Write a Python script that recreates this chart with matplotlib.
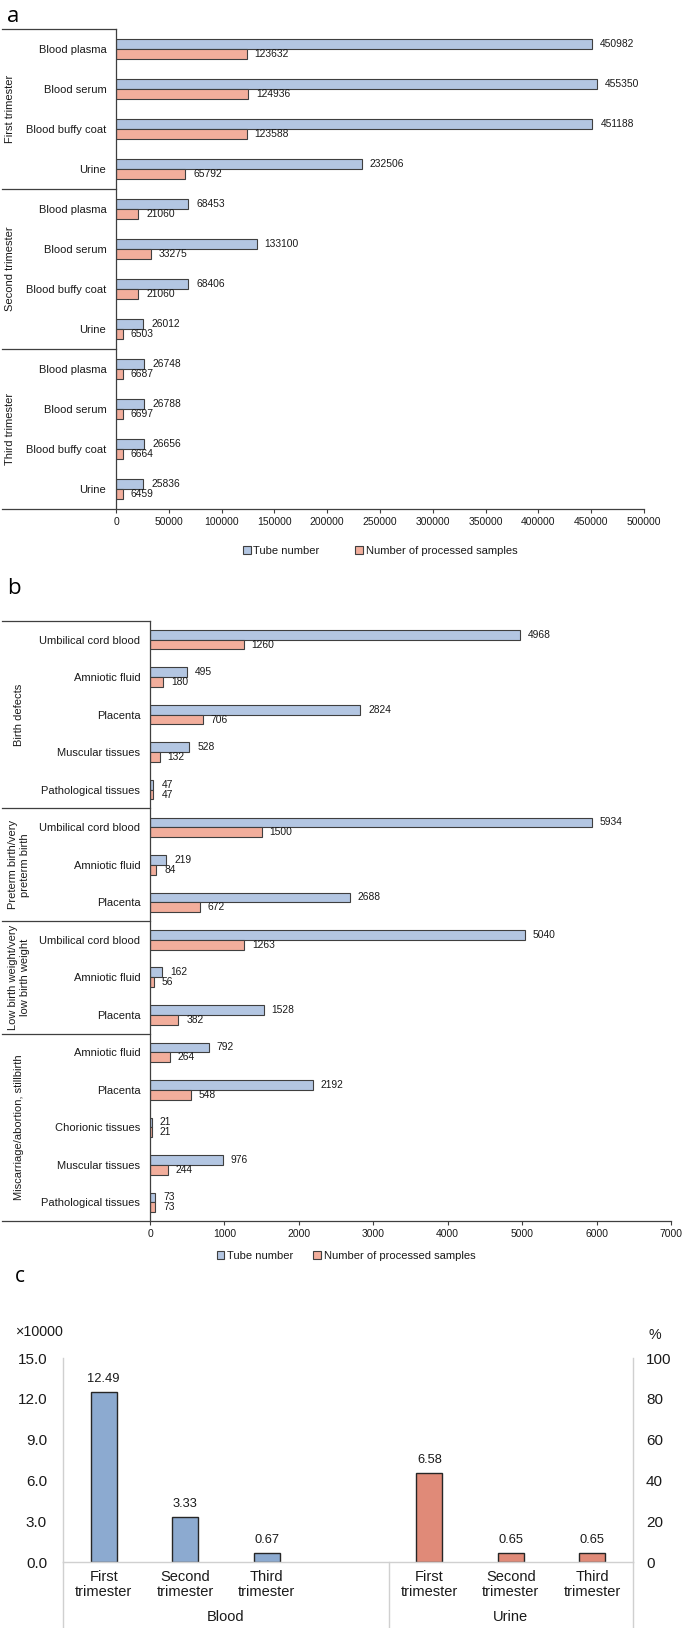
import matplotlib.pyplot as plt
from matplotlib.patches import Patch
from matplotlib.transforms import blended_transform_factory

plt.rcParams['font.family'] = ['Liberation Sans', 'DejaVu Sans']

# panel a data
a_groups = ["First trimester", "Second trimester", "Third trimester"]
a_group_sizes = [4, 4, 4]
a_samples = ["Blood plasma", "Blood serum", "Blood buffy coat", "Urine"] * 3
a_tubes = [450982, 455350, 451188, 232506, 68453, 133100, 68406, 26012,
           26748, 26788, 26656, 25836]
a_processed = [123632, 124936, 123588, 65792, 21060, 33275, 21060, 6503,
               6687, 6697, 6664, 6459]

# panel b data
b_groups = ["Birth defects", "Preterm birth/very\npreterm birth",
            "Low birth weight/very\nlow birth weight",
            "Miscarriage/abortion, stillbirth"]
b_group_sizes = [5, 3, 3, 5]
b_samples = ["Umbilical cord blood", "Amniotic fluid", "Placenta", "Muscular tissues",
             "Pathological tissues", "Umbilical cord blood", "Amniotic fluid", "Placenta",
             "Umbilical cord blood", "Amniotic fluid", "Placenta", "Amniotic fluid",
             "Placenta", "Chorionic tissues", "Muscular tissues", "Pathological tissues"]
b_tubes = [4968, 495, 2824, 528, 47, 5934, 219, 2688, 5040, 162, 1528, 792, 2192, 21, 976, 73]
b_processed = [1260, 180, 706, 132, 47, 1500, 84, 672, 1263, 56, 382, 264, 548, 21, 244, 73]

# panel c data (x10000)
c_labels = ["First\ntrimester", "Second\ntrimester", "Third\ntrimester"]
c_blood = [12.49, 3.33, 0.67]
c_urine = [6.58, 0.65, 0.65]

W, H = 685, 1628
BLUE = "#b3c6e2"
ORANGE = "#f2ae9c"
EDGE = "#3f3f3f"
TXT = "#1a1a1a"

fig = plt.figure(figsize=(W / 100, H / 100), dpi=100)


def px(x0, y0, x1, y1):
    return [x0 / W, 1 - y1 / H, (x1 - x0) / W, (y1 - y0) / H]


def hbar_panel(rect, samples, tubes, processed, groups, sizes, xmax, xstep,
               group_x, legend_xy, colspace):
    ax = fig.add_axes(px(*rect))
    n = len(samples)
    pos = [i + 0.5 for i in range(n)]
    ax.barh([p - 0.13 for p in pos], tubes, height=0.26, color=BLUE,
            edgecolor=EDGE, linewidth=0.8)
    ax.barh([p + 0.13 for p in pos], processed, height=0.26, color=ORANGE,
            edgecolor=EDGE, linewidth=0.8)
    ax.set_xlim(0, xmax)
    ax.set_ylim(n, 0)
    off = xmax * 0.015
    for p, t, q in zip(pos, tubes, processed):
        ax.text(t + off, p - 0.13, str(t), va="center", ha="left", fontsize=7.4, color=TXT)
        ax.text(q + off, p + 0.13, str(q), va="center", ha="left", fontsize=7.4, color=TXT)
    ax.set_yticks(pos)
    ax.set_yticklabels(samples, fontsize=8, color=TXT)
    ax.tick_params(axis="y", length=0, pad=7)
    ax.set_xticks(range(0, xmax + 1, xstep))
    ax.tick_params(axis="x", length=3, width=0.8, color=EDGE, labelsize=7.5,
                   labelcolor=TXT, pad=3)
    for s in ["top", "right", "bottom"]:
        ax.spines[s].set_visible(False)
    ax.spines["left"].set_color(EDGE)
    ax.spines["left"].set_linewidth(0.9)
    tr = blended_transform_factory(ax.transAxes, ax.transData)
    left = (2 - rect[0]) / (rect[2] - rect[0])
    start = 0
    for g, s in zip(groups, sizes):
        ax.plot([left, 0], [start, start], color=EDGE, lw=0.9, transform=tr, clip_on=False)
        ax.text(group_x, start + s / 2, g, rotation=90, ha="center", va="center",
                fontsize=8, color=TXT, transform=tr, linespacing=1.15)
        start += s
    ax.plot([left, 1], [n, n], color=EDGE, lw=0.9, transform=tr, clip_on=False)
    handles = [Patch(facecolor=BLUE, edgecolor=EDGE, linewidth=0.8, label="Tube number"),
               Patch(facecolor=ORANGE, edgecolor=EDGE, linewidth=0.8,
                     label="Number of processed samples")]
    fig.legend(handles=handles, loc="center",
               bbox_to_anchor=(legend_xy[0] / W, 1 - legend_xy[1] / H),
               ncol=2, frameon=False, fontsize=8, handlelength=0.7, handleheight=0.7,
               handletextpad=0.25, columnspacing=colspace, labelcolor=TXT)
    return ax


hbar_panel((116, 29, 644, 509), a_samples, a_tubes, a_processed, a_groups,
           a_group_sizes, 500000, 50000, (10 - 116) / 528, (380, 551), 3.2)
hbar_panel((150, 621, 671, 1221), b_samples, b_tubes, b_processed, b_groups,
           b_group_sizes, 7000, 1000, (19 - 150) / 521, (346, 1256), 1.8)

# panel c
GRAY = "#d0d0d0"
CBLUE = "#8caad0"
CORANGE = "#e08a78"
axc = fig.add_axes(px(63, 1358, 633, 1562))
bx = [0.5, 1.5, 2.5]
ux = [4.5, 5.5, 6.5]
axc.bar(bx, c_blood, width=0.32, color=CBLUE, edgecolor="#262626", linewidth=1)
axc.bar(ux, c_urine, width=0.32, color=CORANGE, edgecolor="#262626", linewidth=1)
for x, v in zip(bx + ux, c_blood + c_urine):
    axc.annotate(f"{v:.2f}", (x, v), xytext=(0, 5), textcoords="offset points",
                 ha="center", va="bottom", fontsize=9.3, color=TXT)
axc.set_xlim(0, 7)
axc.set_ylim(0, 15)
axc.set_yticks([0, 3, 6, 9, 12, 15])
axc.set_yticklabels([f"{v:.1f}" for v in [0, 3, 6, 9, 12, 15]])
axc.tick_params(axis="y", length=0, pad=11.5, labelsize=11, labelcolor=TXT)
axc.set_xticks(bx + ux)
axc.set_xticklabels(c_labels * 2, linespacing=1.05)
axc.tick_params(axis="x", length=0, pad=6, labelsize=10.5, labelcolor=TXT)
axc.spines["top"].set_visible(False)
axc.spines["right"].set_visible(False)
for s in ["left", "bottom"]:
    axc.spines[s].set_color(GRAY)
    axc.spines[s].set_linewidth(1)

axr = axc.twinx()
axr.set_ylim(0, 100)
axr.set_yticks(range(0, 101, 20))
axr.tick_params(axis="y", length=0, pad=9.4, labelsize=11, labelcolor=TXT)
for s in ["top", "left", "bottom"]:
    axr.spines[s].set_visible(False)
axr.spines["right"].set_color(GRAY)
axr.spines["right"].set_linewidth(1)

trc = blended_transform_factory(axc.transData, axc.transAxes)
for x in [0, 4, 7]:
    axc.plot([x, x], [0, -0.33], color=GRAY, lw=1, transform=trc, clip_on=False)
axc.text(2, -0.27, "Blood", ha="center", va="center", fontsize=10.5, color=TXT, transform=trc)
axc.text(5.5, -0.27, "Urine", ha="center", va="center", fontsize=10.5, color=TXT, transform=trc)

fig.text(39 / W, 1 - 1332 / H, "×10000", ha="center", va="center", fontsize=10.3, color=TXT)
fig.text(655 / W, 1 - 1335 / H, "%", ha="center", va="center", fontsize=10.3, color=TXT)

# panel letters
fig.text(7 / W, 1 - 17 / H, "a", ha="left", va="center", fontsize=16, family="Open Sans")
fig.text(7 / W, 1 - 588 / H, "b", ha="left", va="center", fontsize=16, family="Open Sans")
fig.text(15 / W, 1 - 1276 / H, "c", ha="left", va="center", fontsize=15, family="Open Sans")

fig.savefig("out.png", dpi=100)
